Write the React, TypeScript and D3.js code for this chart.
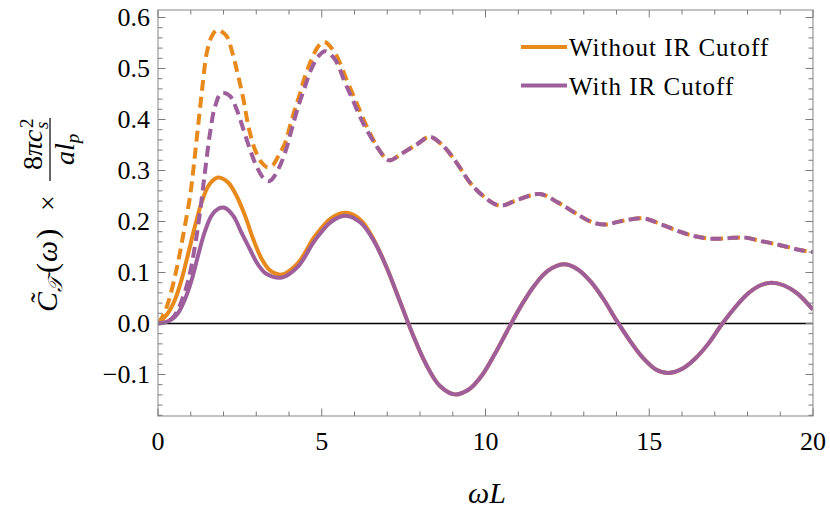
import React from "react";
import * as d3 from "d3";

// ---- data (ωL, value) ----
const withoutCutoffSolid: [number, number][] = [
  [0, 0], [0.3, 0.02], [0.52, 0.047], [0.72, 0.086], [0.93, 0.139], [1.13, 0.191],
  [1.33, 0.237], [1.54, 0.27], [1.74, 0.284], [1.89, 0.286], [2.15, 0.276], [2.4, 0.25],
  [2.66, 0.211], [2.91, 0.165], [3.17, 0.126], [3.42, 0.104], [3.78, 0.096], [4.28, 0.119],
  [4.79, 0.171], [5.3, 0.207], [5.76, 0.217], [6.2, 0.202], [6.6, 0.163], [7.0, 0.107],
  [7.4, 0.041], [7.8, -0.025], [8.2, -0.082], [8.6, -0.122], [9.07, -0.139], [9.5, -0.129],
  [9.9, -0.101], [10.3, -0.058], [10.7, -0.01], [11.1, 0.036], [11.5, 0.075], [11.9, 0.103],
  [12.38, 0.116], [12.8, 0.107], [13.2, 0.083], [13.6, 0.048], [14.0, 0.006], [14.4, -0.033],
  [14.8, -0.067], [15.2, -0.09], [15.58, -0.097], [16.0, -0.089], [16.4, -0.069], [16.8, -0.04],
  [17.2, -0.003], [17.6, 0.03], [18.0, 0.058], [18.4, 0.075], [18.74, 0.08], [19.1, 0.075],
  [19.5, 0.06], [20, 0.027],
];

const withCutoffSolid: [number, number][] = [
  [0, 0], [0.2, 0.002], [0.42, 0.008], [0.62, 0.021], [0.82, 0.047], [1.03, 0.086],
  [1.23, 0.135], [1.43, 0.18], [1.64, 0.212], [1.84, 0.225], [2.03, 0.227], [2.3, 0.211],
  [2.55, 0.178], [2.81, 0.145], [3.06, 0.115], [3.32, 0.097], [3.78, 0.09], [4.28, 0.112],
  [4.79, 0.163], [5.3, 0.2], [5.76, 0.211], [6.2, 0.197], [6.6, 0.161], [7.0, 0.107],
  [7.4, 0.041], [7.8, -0.025], [8.2, -0.082], [8.6, -0.122], [9.07, -0.139], [9.5, -0.129],
  [9.9, -0.101], [10.3, -0.058], [10.7, -0.01], [11.1, 0.036], [11.5, 0.075], [11.9, 0.103],
  [12.38, 0.116], [12.8, 0.107], [13.2, 0.083], [13.6, 0.048], [14.0, 0.006], [14.4, -0.033],
  [14.8, -0.067], [15.2, -0.09], [15.58, -0.097], [16.0, -0.089], [16.4, -0.069], [16.8, -0.04],
  [17.2, -0.003], [17.6, 0.03], [18.0, 0.058], [18.4, 0.075], [18.74, 0.08], [19.1, 0.075],
  [19.5, 0.06], [20, 0.027],
];

const withoutCutoffDashed: [number, number][] = [
  [0, 0], [0.15, 0.015], [0.31, 0.041], [0.52, 0.093], [0.67, 0.139], [0.82, 0.191],
  [0.98, 0.25], [1.08, 0.302], [1.18, 0.361], [1.28, 0.42], [1.38, 0.478], [1.49, 0.531],
  [1.64, 0.563], [1.79, 0.575], [1.95, 0.572], [2.1, 0.563], [2.3, 0.524], [2.45, 0.485],
  [2.61, 0.439], [2.76, 0.387], [2.96, 0.341], [3.17, 0.315], [3.35, 0.306], [3.5, 0.31],
  [3.67, 0.328], [3.88, 0.354], [4.03, 0.387], [4.18, 0.42], [4.34, 0.452], [4.49, 0.485],
  [4.69, 0.518], [4.9, 0.544], [5.08, 0.552], [5.4, 0.531], [5.76, 0.478], [6.06, 0.433],
  [6.37, 0.387], [6.68, 0.348], [6.98, 0.322], [7.1, 0.32], [7.49, 0.335], [7.9, 0.351],
  [8.3, 0.366], [8.71, 0.348], [9.12, 0.315], [9.53, 0.276], [9.93, 0.25], [10.44, 0.231],
  [11.0, 0.243], [11.66, 0.254], [12.22, 0.237], [12.73, 0.217], [13.24, 0.199], [13.65, 0.194],
  [14.16, 0.201], [14.82, 0.206], [15.38, 0.194], [15.89, 0.181], [16.4, 0.171], [16.96, 0.166],
  [17.56, 0.168], [17.97, 0.168], [18.38, 0.162], [18.69, 0.158], [19.1, 0.152], [19.6, 0.144],
  [20, 0.14],
];

const withCutoffDashed: [number, number][] = [
  [0, 0], [0.3, 0.004], [0.52, 0.017], [0.72, 0.044], [0.93, 0.086], [1.13, 0.152],
  [1.28, 0.217], [1.43, 0.295], [1.59, 0.374], [1.74, 0.425], [1.94, 0.452], [2.2, 0.446],
  [2.4, 0.42], [2.61, 0.38], [2.81, 0.341], [3.01, 0.308], [3.22, 0.285], [3.37, 0.279],
  [3.47, 0.282], [3.67, 0.302], [3.88, 0.335], [4.08, 0.38], [4.28, 0.425], [4.49, 0.465],
  [4.69, 0.5], [4.9, 0.524], [5.1, 0.534], [5.4, 0.518], [5.71, 0.472], [5.97, 0.435],
  [6.17, 0.405], [6.37, 0.38], [6.68, 0.347], [6.98, 0.322], [7.1, 0.32], [7.49, 0.335],
  [7.9, 0.351], [8.3, 0.366], [8.71, 0.348], [9.12, 0.315], [9.53, 0.276], [9.93, 0.25],
  [10.44, 0.231], [11.0, 0.243], [11.66, 0.254], [12.22, 0.237], [12.73, 0.217], [13.24, 0.199],
  [13.65, 0.194], [14.16, 0.201], [14.82, 0.206], [15.38, 0.194], [15.89, 0.181], [16.4, 0.171],
  [16.96, 0.166], [17.56, 0.168], [17.97, 0.168], [18.38, 0.162], [18.69, 0.158], [19.1, 0.152],
  [19.6, 0.144], [20, 0.14],
];

const xMajorTicks = [0, 5, 10, 15, 20];
const xTickLabels = ["0", "5", "10", "15", "20"];
const yMajorTicks = [-0.1, 0, 0.1, 0.2, 0.3, 0.4, 0.5, 0.6];
const yTickLabels = ["\u22120.1", "0.0", "0.1", "0.2", "0.3", "0.4", "0.5", "0.6"];
const legendLabels = ["Without IR Cutoff", "With IR Cutoff"];

const ORANGE = "#E8891C";
const PURPLE = "#9E5E9B";
const FONT = "Liberation Serif, DejaVu Serif, serif";

export default function App() {
  const W = 830, H = 521;
  const L = 158, R = 813, T = 10, B = 416;
  const x = d3.scaleLinear().domain([0, 20]).range([L, R]);
  const y = d3.scaleLinear().domain([-0.1814, 0.6147]).range([B, T]);

  const line = d3
    .line<[number, number]>()
    .x((d) => x(d[0]))
    .y((d) => y(d[1]))
    .curve(d3.curveCatmullRom.alpha(0.5));

  const xMinor = d3.range(0, 21, 1).filter((v) => v % 5 !== 0);
  const yMinor = d3
    .range(-9, 31, 1)
    .map((k) => k * 0.02)
    .filter((v) => Math.abs(v * 10 - Math.round(v * 10)) > 1e-6);

  const frame = "#9a9a9a";
  const tickCol = "#7a7a7a";
  const maj = 7.5, mnr = 4.5;
  const txt: React.CSSProperties = { fontFamily: FONT };

  return (
    <svg width={W} height={H} style={{ position: "absolute", left: 0, top: 0, background: "#fff" }}>
      <defs>
        <clipPath id="plotclip">
          <rect x={L} y={T} width={R - L} height={B - T} />
        </clipPath>
      </defs>

      {/* zero axis */}
      <line x1={L} x2={R} y1={y(0)} y2={y(0)} stroke="#000" strokeWidth={1.3} />

      {/* curves */}
      <g clipPath="url(#plotclip)" fill="none" strokeWidth={4}>
        <path d={line(withoutCutoffSolid) || ""} stroke={ORANGE} />
        <path d={line(withoutCutoffDashed) || ""} stroke={ORANGE} strokeDasharray="11,6" />
        <path d={line(withCutoffSolid) || ""} stroke={PURPLE} />
        <path d={line(withCutoffDashed) || ""} stroke={PURPLE} strokeDasharray="11,6" strokeDashoffset={5} />
      </g>

      {/* frame */}
      <rect x={L} y={T} width={R - L} height={B - T} fill="none" stroke={frame} strokeWidth={1.2} />

      {/* ticks */}
      <g stroke={tickCol} strokeWidth={1}>
        {xMajorTicks.map((v) => (
          <g key={"xm" + v}>
            <line x1={x(v)} x2={x(v)} y1={B} y2={B - maj} />
            <line x1={x(v)} x2={x(v)} y1={T} y2={T + maj} />
          </g>
        ))}
        {xMinor.map((v) => (
          <g key={"xn" + v}>
            <line x1={x(v)} x2={x(v)} y1={B} y2={B - mnr} />
            <line x1={x(v)} x2={x(v)} y1={T} y2={T + mnr} />
          </g>
        ))}
        {yMajorTicks.map((v) => (
          <g key={"ym" + v}>
            <line x1={L} x2={L + maj} y1={y(v)} y2={y(v)} />
            <line x1={R} x2={R - maj} y1={y(v)} y2={y(v)} />
          </g>
        ))}
        {yMinor.map((v) => (
          <g key={"yn" + v}>
            <line x1={L} x2={L + mnr} y1={y(v)} y2={y(v)} />
            <line x1={R} x2={R - mnr} y1={y(v)} y2={y(v)} />
          </g>
        ))}
      </g>

      {/* tick labels */}
      <g style={txt} fontSize={26} fill="#000">
        {xMajorTicks.map((v, i) => (
          <text key={"xl" + v} x={x(v)} y={450} textAnchor="middle">
            {xTickLabels[i]}
          </text>
        ))}
        {yMajorTicks.map((v, i) => (
          <text key={"yl" + v} x={150} y={y(v) + 8.5} textAnchor="end">
            {yTickLabels[i]}
          </text>
        ))}
      </g>

      {/* x label */}
      <text x={487} y={503} textAnchor="middle" style={txt} fontSize={30} fontStyle="italic">
        ωL
      </text>

      {/* y label */}
      <g transform="translate(50,215) rotate(-90)" style={txt} fill="#000">
        <text x={-97} y={6.5} fontSize={30}>
          <tspan fontStyle="italic">C̃</tspan>
          <tspan fontSize={20} dy={5} fontStyle="italic">𝒯</tspan>
          <tspan dy={-5} dx={4}>(</tspan>
          <tspan fontStyle="italic" dx={1}>ω</tspan>
          <tspan dx={2}>)</tspan>
        </text>
        <text x={12} y={6.5} fontSize={28} textAnchor="middle">×</text>
        <line x1={34} x2={97} y1={0} y2={0} stroke="#000" strokeWidth={1.2} />
        <text x={45} y={-8} fontSize={28}>
          <tspan>8</tspan>
          <tspan fontStyle="italic">πc</tspan>
        </text>
        <text x={87} y={-17} fontSize={19}>2</text>
        <text x={86} y={-2} fontSize={19} fontStyle="italic">s</text>
        <text x={50} y={24} fontSize={28} fontStyle="italic">
          <tspan>al</tspan>
          <tspan fontSize={19} dy={5}>p</tspan>
        </text>
      </g>

      {/* legend */}
      <g style={txt} fontSize={25}>
        {legendLabels.map((lab, i) => (
          <g key={lab}>
            <line
              x1={521}
              x2={567}
              y1={47 + i * 38.5}
              y2={47 + i * 38.5}
              stroke={i === 0 ? ORANGE : PURPLE}
              strokeWidth={4}
            />
            <text x={569} y={56 + i * 38.5} letterSpacing={1}>
              {lab}
            </text>
          </g>
        ))}
      </g>
    </svg>
  );
}
